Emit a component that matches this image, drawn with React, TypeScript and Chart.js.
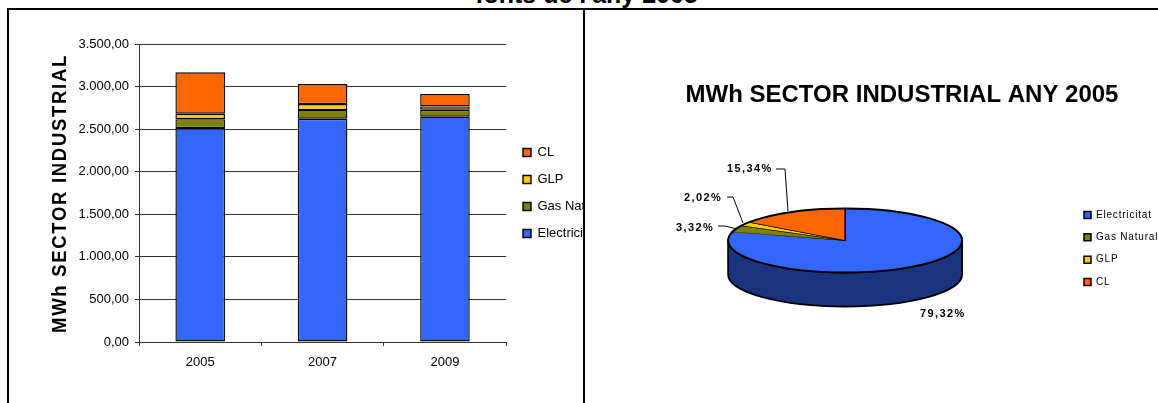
import React, { useEffect, useRef } from "react";
import { Chart, registerables } from "chart.js";

Chart.register(...registerables);

const years = ["2005", "2007", "2009"];
const electricitat = [2512, 2622, 2646];
const gasNatural = [105, 102, 82];
const glp = [64, 71, 39];
const cl = [486, 235, 145];

const pieLabels = ["Electricitat", "Gas Natural", "GLP", "CL"];
const pieValues = [79.32, 3.32, 2.02, 15.34];

const BLUE = "#3366FF";
const OLIVE = "#808000";
const YELLOW = "#FFCC00";
const ORANGE = "#FF6600";
const SIDE = "#19337F";
const FONT = "'Liberation Sans', Arial, sans-serif";

const BAR_X = 8, BAR_Y = 10, PIE_X = 585, PIE_Y = 10;

const fmt = (v: number) =>
  new Intl.NumberFormat("de-DE", { minimumFractionDigits: 2, maximumFractionDigits: 2, useGrouping: "always" } as any).format(v);

const placeLegend = (chart: any, boxX: number, centerY: number) => {
  const l = chart.legend;
  const pad = l.options.labels.padding;
  const w = l.width;
  l.left = boxX - pad;
  l.right = l.left + w;
  const dy = centerY - (l.top + l.bottom) / 2;
  l.top += dy;
  l.bottom += dy;
};

const barPlugin = {
  id: "barExtras",
  afterLayout(chart: any) {
    placeLegend(chart, 523 - BAR_X, 193 - BAR_Y);
  },
  afterDraw(chart: any) {
    const ctx = chart.ctx;
    ctx.save();
    ctx.translate(66 - BAR_X, 193.5 - BAR_Y);
    ctx.rotate(-Math.PI / 2);
    ctx.scale(1, 1.12);
    ctx.font = `bold 18.5px ${FONT}`;
    (ctx as any).letterSpacing = "1.7px";
    ctx.fillStyle = "#000";
    ctx.textAlign = "center";
    ctx.textBaseline = "alphabetic";
    ctx.fillText("MWh SECTOR INDUSTRIAL", 0, 0);
    ctx.restore();
  },
};

const RATIO = 32 / 117;
const DEPTH = 34;

// label anchor + leader polyline for each slice, in page pixels
const leaders: { text: number; x: number; y: number; line: number[][] }[] = [
  { text: 0, x: 920, y: 314, line: [] },
  { text: 1, x: 676, y: 228, line: [[718, 226], [725, 226], [737, 229]] },
  { text: 2, x: 684, y: 198, line: [[727, 197], [733, 197], [743, 223]] },
  { text: 3, x: 727, y: 169, line: [[776, 169], [785, 169], [788, 211]] },
];

const piePlugin = {
  id: "pieExtras",
  afterLayout(chart: any) {
    placeLegend(chart, 1084 - PIE_X, 248.5 - PIE_Y);
  },
  beforeDraw(chart: any) {
    (chart.ctx as any).letterSpacing = "0.8px";
  },
  beforeDatasetsDraw(chart: any) {
    const ctx = chart.ctx;
    (ctx as any).letterSpacing = "0px";
    const arc = chart.getDatasetMeta(0).data[0];
    const { x, y, outerRadius: r } = arc;
    const ry = r * RATIO;
    ctx.save();
    ctx.beginPath();
    ctx.ellipse(x, y, r, ry, 0, 0, Math.PI);
    ctx.lineTo(x - r, y + DEPTH);
    ctx.ellipse(x, y + DEPTH, r, ry, 0, Math.PI, 0, true);
    ctx.closePath();
    ctx.fillStyle = SIDE;
    ctx.fill();
    ctx.lineWidth = 1.8;
    ctx.strokeStyle = "#000";
    ctx.stroke();
    ctx.restore();
    ctx.save();
    ctx.translate(0, y);
    ctx.scale(1, RATIO);
    ctx.translate(0, -y);
  },
  afterDatasetsDraw(chart: any) {
    const ctx = chart.ctx;
    ctx.restore();
    const arc = chart.getDatasetMeta(0).data[0];
    ctx.save();
    ctx.beginPath();
    ctx.ellipse(arc.x, arc.y, arc.outerRadius, arc.outerRadius * RATIO, 0, 0, Math.PI * 2);
    ctx.lineWidth = 1.8;
    ctx.strokeStyle = "#000";
    ctx.stroke();
    ctx.restore();
  },
  afterDraw(chart: any) {
    const ctx = chart.ctx;
    ctx.save();
    ctx.fillStyle = "#000";
    ctx.font = `bold 24px ${FONT}`;
    (ctx as any).letterSpacing = "0px";
    ctx.textAlign = "center";
    ctx.textBaseline = "middle";
    ctx.fillText("MWh SECTOR INDUSTRIAL ANY 2005", 902 - PIE_X, 95 - PIE_Y);
    ctx.font = `bold 11px ${FONT}`;
    (ctx as any).letterSpacing = "1.4px";
    ctx.textAlign = "left";
    leaders.forEach((d) => {
      const s = pieValues[d.text].toFixed(2).replace(".", ",") + "%";
      ctx.fillText(s, d.x - PIE_X, d.y - PIE_Y);
      if (d.line.length) {
        ctx.beginPath();
        d.line.forEach((p, i) =>
          i ? ctx.lineTo(p[0] - PIE_X, p[1] - PIE_Y) : ctx.moveTo(p[0] - PIE_X, p[1] - PIE_Y)
        );
        ctx.lineWidth = 1;
        ctx.strokeStyle = "#000";
        ctx.stroke();
      }
    });
    ctx.restore();
  },
};

export default function App() {
  const barRef = useRef<HTMLCanvasElement>(null);
  const pieRef = useRef<HTMLCanvasElement>(null);

  useEffect(() => {
    const ds = (label: string, data: number[], color: string) => ({
      label,
      data,
      backgroundColor: color,
      borderColor: "#000",
      borderWidth: 1.4,
      borderSkipped: false,
      barPercentage: 0.405,
      categoryPercentage: 1,
    });
    const bar = new Chart(barRef.current!, {
      type: "bar",
      data: {
        labels: years,
        datasets: [
          ds("Electricitat", electricitat, BLUE),
          ds("Gas Natural", gasNatural, OLIVE),
          ds("GLP", glp, YELLOW),
          ds("CL", cl, ORANGE),
        ],
      },
      options: {
        animation: false,
        responsive: false,
        layout: { padding: { top: 34, right: 44, left: 0, bottom: 0 } },
        font: { family: FONT },
        plugins: {
          tooltip: { enabled: false },
          legend: {
            position: "right",
            reverse: true,
            labels: { boxWidth: 8, boxHeight: 8, padding: 14, color: "#000", font: { family: FONT, size: 13 } },
          },
        },
        scales: {
          x: {
            stacked: true,
            afterFit: (s: any) => { s.height = 61; },
            grid: { offset: true, drawOnChartArea: false, color: "#333", tickLength: 4 },
            border: { color: "#333" },
            ticks: { color: "#000", padding: 9, font: { family: FONT, size: 13 } },
          },
          y: {
            stacked: true,
            min: 0,
            max: 3500,
            afterFit: (s: any) => { s.width = 131; },
            grid: { color: "#333", tickLength: 4 },
            border: { color: "#333" },
            ticks: { stepSize: 500, color: "#000", padding: 6, font: { family: FONT, size: 13 }, callback: (v: any) => fmt(Number(v)) },
          },
        },
      } as any,
      plugins: [barPlugin],
    });

    const pie = new Chart(pieRef.current!, {
      type: "pie",
      data: {
        labels: pieLabels,
        datasets: [{ data: pieValues, backgroundColor: [BLUE, OLIVE, YELLOW, ORANGE], borderColor: "#000", borderWidth: 1.5 }],
      },
      options: {
        animation: false,
        responsive: false,
        radius: 117,
        layout: { padding: { left: 35, right: 0, top: 113.5, bottom: 45.5 } },
        plugins: {
          tooltip: { enabled: false },
          legend: {
            position: "right",
            labels: { boxWidth: 7, boxHeight: 7, padding: 12.4, color: "#000", font: { family: FONT, size: 10 } },
          },
        },
      } as any,
      plugins: [piePlugin],
    });
    return () => {
      bar.destroy();
      pie.destroy();
    };
  }, []);

  const abs: React.CSSProperties = { position: "absolute" };
  return (
    <div style={{ ...abs, left: 0, top: 0, width: 1158, height: 403, background: "#fff", overflow: "hidden" }}>
      <div style={{ ...abs, left: 400, width: 373, top: -18, textAlign: "center", font: `bold 25px ${FONT}`, color: "#000", lineHeight: "25px", whiteSpace: "nowrap" }}>
        fonts de l'any 2005
      </div>
      <div style={{ ...abs, left: BAR_X, top: BAR_Y, width: 576, height: 393, overflow: "hidden" }}>
        <canvas ref={barRef} width={650} height={393} style={{ display: "block" }} />
      </div>
      <div style={{ ...abs, left: PIE_X, top: PIE_Y, width: 573, height: 393, overflow: "hidden" }}>
        <canvas ref={pieRef} width={573} height={393} style={{ display: "block" }} />
      </div>
      <div style={{ ...abs, left: 7, top: 8, width: 1151, height: 2, background: "#000" }} />
      <div style={{ ...abs, left: 7, top: 8, width: 2, height: 395, background: "#000" }} />
      <div style={{ ...abs, left: 583, top: 8, width: 2, height: 395, background: "#000" }} />
    </div>
  );
}
